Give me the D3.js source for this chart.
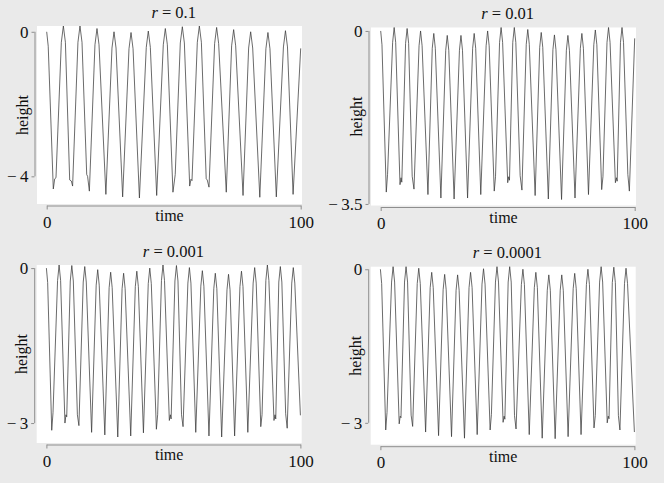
<!DOCTYPE html>
<html>
<head>
<meta charset="utf-8">
<script src="https://cdn.jsdelivr.net/npm/d3@7"></script>
<style>
  html, body { margin: 0; padding: 0; background: #eaeaea; }
  svg { display: block; }
</style>
</head>
<body>
<div id="chart"></div>
<script>
// data (time, height)

const rLabels = ["0.1", "0.01", "0.001", "0.0001"];
const yLowTicks = [-4, -3.5, -3, -3];
const xTickValues = [0, 100];

const series01 = [
  [0, 0], [0.6, -0.4], [2.6, -4.35], [3.15, -4.07], [3.66, -4.04],
  [5.76, -0.29], [6.56, 0.16], [7.36, -0.29], [9.05, -4.1], [9.7, -4.13], [10.2, -4.27],
  [12.3, -0.29], [13.1, 0.16], [13.9, -0.29], [15.75, -3.95], [16.1, -4.0], [16.8, -4.41],
  [19.0, -0.36], [19.8, 0.09], [20.6, -0.36], [23.3, -4.5],
  [25.7, -0.45], [26.5, 0], [27.3, -0.45], [29.9, -4.57],
  [32.4, -0.47], [33.2, -0.02], [34.0, -0.47], [36.5, -4.6],
  [39.2, -0.43], [40.0, 0.02], [40.8, -0.43], [43.3, -4.53],
  [45.9, -0.36], [46.7, 0.09], [47.5, -0.36], [49.7, -4.44], [50.6, -3.95],
  [52.6, -0.31], [53.4, 0.14], [54.2, -0.31], [56.3, -4.27], [56.8, -4.08], [57.2, -4.12],
  [59.3, -0.29], [60.1, 0.16], [60.9, -0.29], [62.8, -4.07], [63.2, -4.1], [63.9, -4.3],
  [66.1, -0.33], [66.9, 0.12], [67.7, -0.33], [70.7, -4.44],
  [72.8, -0.39], [73.6, 0.06], [74.4, -0.39], [77.3, -4.53],
  [79.5, -0.45], [80.3, 0], [81.1, -0.45], [83.9, -4.58],
  [86.3, -0.47], [87.1, -0.02], [87.9, -0.47], [90.4, -4.57],
  [93.2, -0.42], [94.0, 0.03], [94.8, -0.42], [97.0, -4.5],
  [100, -0.46]
];

const series001 = [
  [0, 0], [0.5, -0.28], [2.2, -3.26], [2.7, -2.9],
  [4.7, -0.23], [5.3, 0.07], [5.9, -0.23], [7.6, -3.11], [8.0, -2.97], [8.3, -3.06],
  [9.8, -0.25], [10.4, 0.05], [11.0, -0.25], [12.4, -2.94], [13.1, -3.2],
  [15.1, -0.3], [15.7, 0], [16.3, -0.3], [18.6, -3.31],
  [20.3, -0.35], [20.9, -0.05], [21.5, -0.35], [23.7, -3.38],
  [25.6, -0.39], [26.2, -0.09], [26.8, -0.39], [28.9, -3.4],
  [31.0, -0.39], [31.6, -0.09], [32.2, -0.39], [34.2, -3.38],
  [36.2, -0.35], [36.8, -0.05], [37.4, -0.35], [39.4, -3.31],
  [41.5, -0.3], [42.1, 0], [42.7, -0.3], [44.7, -3.24], [45.2, -2.95],
  [46.8, -0.23], [47.4, 0.07], [48.0, -0.23], [50.0, -3.07], [50.4, -2.95], [50.7, -3.02],
  [52.0, -0.23], [52.6, 0.07], [53.2, -0.23], [54.9, -2.93], [55.6, -3.22],
  [57.3, -0.27], [57.9, 0.03], [58.5, -0.27], [60.8, -3.33],
  [62.6, -0.33], [63.2, -0.03], [63.8, -0.33], [66.0, -3.4],
  [67.8, -0.38], [68.4, -0.08], [69.0, -0.38], [71.2, -3.41],
  [73.1, -0.39], [73.7, -0.09], [74.3, -0.39], [76.5, -3.38],
  [78.6, -0.35], [79.2, -0.05], [79.8, -0.35], [81.8, -3.31],
  [83.9, -0.28], [84.5, 0.02], [85.1, -0.28], [87.0, -3.21], [87.5, -2.95],
  [89.1, -0.23], [89.7, 0.07], [90.3, -0.23], [92.4, -3.07], [92.8, -2.97], [93.1, -3.04],
  [94.4, -0.23], [95.0, 0.07], [95.6, -0.23], [97.3, -2.9], [97.9, -3.24],
  [100, -0.15]
];

const series0001 = [
  [0, 0], [0.5, -0.28], [2.1, -3.14], [2.6, -2.8],
  [4.4, -0.24], [5.0, 0.06], [5.6, -0.24], [7.3, -3.0], [7.7, -2.84], [8.0, -2.88],
  [9.4, -0.25], [10.0, 0.05], [10.6, -0.25], [12.2, -2.84], [12.8, -3.05],
  [14.5, -0.27], [15.1, 0.03], [15.7, -0.27], [17.8, -3.18],
  [19.6, -0.33], [20.2, -0.03], [20.8, -0.33], [23.0, -3.23],
  [24.7, -0.38], [25.3, -0.08], [25.9, -0.38], [28.1, -3.27],
  [29.8, -0.4], [30.4, -0.1], [31.0, -0.4], [33.2, -3.25],
  [35.0, -0.36], [35.6, -0.06], [36.2, -0.36], [38.2, -3.19],
  [40.1, -0.3], [40.7, 0], [41.3, -0.3], [43.3, -3.12], [43.8, -2.84],
  [45.3, -0.24], [45.9, 0.06], [46.5, -0.24], [48.4, -2.95], [48.8, -2.84], [49.1, -2.92],
  [50.6, -0.25], [51.2, 0.05], [51.8, -0.25], [53.2, -2.84], [53.8, -3.07],
  [55.7, -0.29], [56.3, 0.01], [56.9, -0.29], [58.8, -3.18],
  [60.8, -0.35], [61.4, -0.05], [62.0, -0.35], [64.0, -3.25],
  [65.9, -0.4], [66.5, -0.1], [67.1, -0.4], [69.0, -3.27],
  [71.1, -0.42], [71.7, -0.12], [72.3, -0.42], [74.1, -3.25],
  [76.2, -0.36], [76.8, -0.06], [77.4, -0.36], [79.3, -3.18],
  [81.4, -0.29], [82.0, 0.01], [82.6, -0.29], [84.4, -3.07], [84.9, -2.84],
  [86.4, -0.24], [87.0, 0.06], [87.6, -0.24], [89.6, -2.95], [90.0, -2.84], [90.3, -2.92],
  [91.5, -0.27], [92.1, 0.03], [92.7, -0.27], [94.2, -2.82], [94.8, -3.1],
  [96.6, -0.29], [97.2, 0.01], [97.8, -0.29], [100, -2.85]
];

const series00001 = [
  [0, 0], [0.5, -0.28], [2.1, -3.14], [2.6, -2.8],
  [4.4, -0.25], [5.0, 0.05], [5.6, -0.25], [7.4, -3.02], [7.8, -2.87], [8.1, -2.9],
  [9.5, -0.25], [10.1, 0.05], [10.7, -0.25], [12.1, -2.85], [12.7, -3.07],
  [14.5, -0.28], [15.1, 0.02], [15.7, -0.28], [17.8, -3.18],
  [19.6, -0.36], [20.2, -0.06], [20.8, -0.36], [22.9, -3.25],
  [24.7, -0.4], [25.3, -0.1], [25.9, -0.4], [28.0, -3.27],
  [29.8, -0.41], [30.4, -0.11], [31.0, -0.41], [33.1, -3.3],
  [34.9, -0.36], [35.5, -0.06], [36.1, -0.36], [38.1, -3.23],
  [40.0, -0.29], [40.6, 0.01], [41.2, -0.29], [43.2, -3.14], [43.7, -2.84],
  [45.3, -0.25], [45.9, 0.05], [46.5, -0.25], [48.3, -2.99], [48.7, -2.87], [49.0, -2.93],
  [50.3, -0.25], [50.9, 0.05], [51.5, -0.25], [52.8, -2.86], [53.4, -3.12],
  [55.5, -0.3], [56.1, 0], [56.7, -0.3], [58.6, -3.23],
  [60.6, -0.36], [61.2, -0.06], [61.8, -0.36], [63.7, -3.3],
  [65.7, -0.41], [66.3, -0.11], [66.9, -0.41], [68.8, -3.31],
  [70.8, -0.41], [71.4, -0.11], [72.0, -0.41], [73.9, -3.27],
  [75.9, -0.38], [76.5, -0.08], [77.1, -0.38], [79.0, -3.23],
  [81.1, -0.3], [81.7, 0], [82.3, -0.3], [84.1, -3.1], [84.6, -2.86],
  [86.3, -0.25], [86.9, 0.05], [87.5, -0.25], [89.3, -3.0], [89.7, -2.87], [90.0, -2.92],
  [91.3, -0.26], [91.9, 0.04], [92.5, -0.26], [93.7, -2.86], [94.3, -3.14],
  [96.1, -0.28], [96.7, 0.02], [97.3, -0.28], [100, -3.18]
];

const seriesList = [series01, series001, series0001, series00001];

// config

const width = 664;
const height = 483;
const plotW = 265;
const plotH = 178;
const serif = '"Liberation Serif", "Times New Roman", serif';
const axisGrey = "#8e8e8e";

// top-left corner of each white plot region
const panelBox = [
  { left: 37, top: 26 },
  { left: 371, top: 27.5 },
  { left: 36.7, top: 265 },
  { left: 370.7, top: 266.7 }
];

const svg = d3.select("#chart")
  .append("svg")
  .attr("width", width)
  .attr("height", height)
  .attr("viewBox", [0, 0, width, height]);

svg.append("rect")
  .attr("width", width)
  .attr("height", height)
  .attr("fill", "#eaeaea");

const fmt = d => d < 0 ? "\u2212\u2009" + Math.abs(d) : String(d);

seriesList.forEach((data, i) => {
  const box = panelBox[i];
  const g = svg.append("g");

  // scales

  const x = d3.scaleLinear()
    .domain([0, 100])
    .range([box.left + 9.7, box.left + 263.7]);

  const y = d3.scaleLinear()
    .domain(d3.extent(data, d => d[1]))
    .range([box.top + 172, box.top]);

  // plot region

  g.append("rect")
    .attr("x", box.left)
    .attr("y", box.top)
    .attr("width", plotW)
    .attr("height", plotH)
    .attr("fill", "#ffffff");

  const line = d3.line()
    .x(d => x(d[0]))
    .y(d => y(d[1]));

  g.append("path")
    .attr("d", line(data))
    .attr("fill", "none")
    .attr("stroke", "#3a3a3a")
    .attr("stroke-width", 0.75)
    .attr("stroke-linejoin", "round");

  // y axis, the line only spans the two ticks

  const yAxisX = box.left - 2.5;
  const yAx = g.append("g")
    .attr("transform", "translate(" + yAxisX + ",0)")
    .call(d3.axisLeft(y)
      .tickValues([yLowTicks[i], 0])
      .tickSize(3)
      .tickPadding(3)
      .tickFormat(fmt))
    .call(a => a.select(".domain").remove())
    .call(a => a.selectAll(".tick line").attr("stroke", axisGrey))
    .call(a => a.selectAll(".tick text")
      .attr("fill", "#111")
      .style("font-family", serif)
      .style("font-size", "17px"));

  yAx.append("line")
    .attr("x1", 0.5)
    .attr("x2", 0.5)
    .attr("y1", y(0))
    .attr("y2", y(yLowTicks[i]))
    .attr("stroke", axisGrey);

  // x axis

  const xAxisY = box.top + plotH + 1.5;
  g.append("g")
    .attr("transform", "translate(0," + xAxisY + ")")
    .call(d3.axisBottom(x)
      .tickValues(xTickValues)
      .tickSize(4)
      .tickSizeOuter(0)
      .tickPadding(6))
    .call(a => a.select(".domain").attr("stroke", axisGrey))
    .call(a => a.selectAll(".tick line").attr("stroke", axisGrey))
    .call(a => a.selectAll(".tick text")
      .attr("fill", "#111")
      .style("font-family", serif)
      .style("font-size", "17px"));

  // labels

  g.append("text")
    .attr("x", box.left + plotW / 2)
    .attr("y", xAxisY + 15.5)
    .attr("text-anchor", "middle")
    .style("font-family", serif)
    .style("font-size", "16px")
    .style("fill", "#111")
    .text("time");

  g.append("text")
    .attr("transform", "translate(" + (box.left - 9.5) + "," + (box.top + plotH / 2) + ") rotate(-90)")
    .attr("text-anchor", "middle")
    .style("font-family", serif)
    .style("font-size", "16px")
    .style("fill", "#111")
    .text("height");

  const title = g.append("text")
    .attr("x", (x(0) + x(100)) / 2)
    .attr("y", box.top - 8.5)
    .attr("text-anchor", "middle")
    .style("font-family", serif)
    .style("font-size", "16.5px")
    .style("fill", "#111");

  title.append("tspan")
    .style("font-style", "italic")
    .text("r");

  title.append("tspan")
    .text("\u2005=\u2005" + rLabels[i]);
});
</script>
</body>
</html>
